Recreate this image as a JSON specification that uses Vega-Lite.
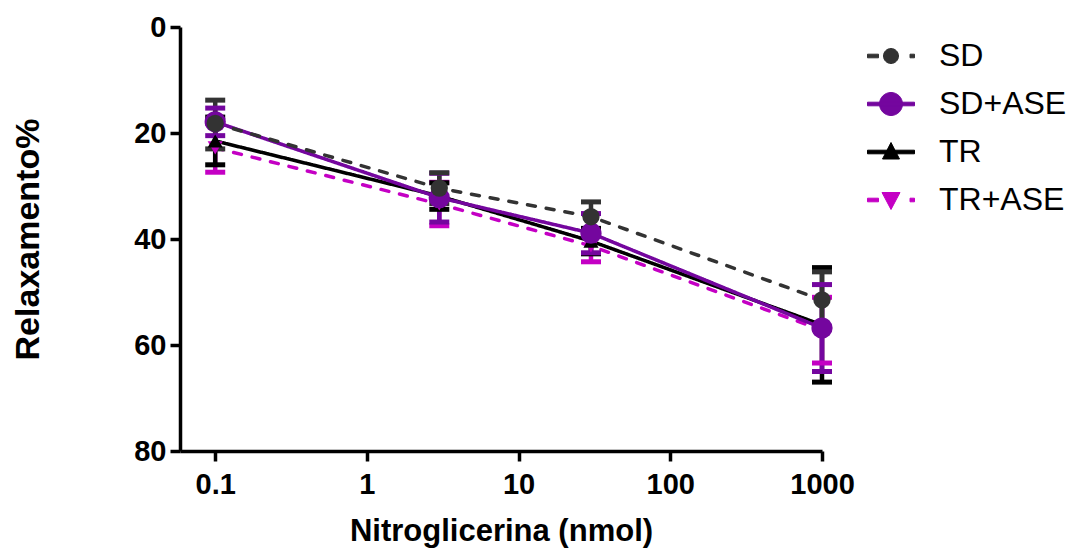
{
  "$schema": "https://vega.github.io/schema/vega-lite/v6.json",
  "width": 642,
  "height": 424,
  "autosize": "none",
  "padding": {"left": 180, "top": 27, "right": 262, "bottom": 99},
  "background": "white",
  "config": {
    "view": {"stroke": null},
    "font": "Liberation Sans",
    "axis": {
      "domainColor": "black", "domainWidth": 3.5, "tickColor": "black", "tickWidth": 3.5, "tickSize": 10,
      "labelFont": "Liberation Sans", "labelFontWeight": "bold", "labelColor": "black", "labelFontSize": 29,
      "titleFont": "Liberation Sans", "titleFontWeight": "bold", "titleColor": "black", "grid": false
    },
    "legend": {
      "orient": "none", "legendX": 695, "legendY": 13,
      "symbolSize": 400, "labelFontSize": 32, "labelFont": "Liberation Sans", "labelColor": "black",
      "rowPadding": 16, "labelOffset": 32, "symbolStrokeWidth": 1, "symbolOpacity": 1
    }
  },
  "data": {"values": [
    {"g": "TR+ASE", "dose": 0.1, "mean": 22.8, "lo": 18.2, "hi": 27.4, "ord": 1},
    {"g": "TR+ASE", "dose": 3, "mean": 33.4, "lo": 29.3, "hi": 37.5, "ord": 1},
    {"g": "TR+ASE", "dose": 30, "mean": 41.3, "lo": 38.4, "hi": 44.3, "ord": 1},
    {"g": "TR+ASE", "dose": 1000, "mean": 57.2, "lo": 51.0, "hi": 63.4, "ord": 1},
    {"g": "TR", "dose": 0.1, "mean": 21.5, "lo": 17.0, "hi": 26.0, "ord": 2},
    {"g": "TR", "dose": 3, "mean": 31.9, "lo": 29.4, "hi": 34.4, "ord": 2},
    {"g": "TR", "dose": 30, "mean": 40.4, "lo": 38.0, "hi": 42.8, "ord": 2},
    {"g": "TR", "dose": 1000, "mean": 56.2, "lo": 45.4, "hi": 67.0, "ord": 2},
    {"g": "SD+ASE", "dose": 0.1, "mean": 17.9, "lo": 15.3, "hi": 20.5, "ord": 3},
    {"g": "SD+ASE", "dose": 3, "mean": 32.2, "lo": 27.6, "hi": 36.8, "ord": 3},
    {"g": "SD+ASE", "dose": 30, "mean": 38.9, "lo": 35.2, "hi": 42.6, "ord": 3},
    {"g": "SD+ASE", "dose": 1000, "mean": 56.8, "lo": 48.6, "hi": 65.0, "ord": 3},
    {"g": "SD", "dose": 0.1, "mean": 18.2, "lo": 13.8, "hi": 23.0, "ord": 4},
    {"g": "SD", "dose": 3, "mean": 30.4, "lo": 27.5, "hi": 33.3, "ord": 4},
    {"g": "SD", "dose": 30, "mean": 35.8, "lo": 33.0, "hi": 38.7, "ord": 4},
    {"g": "SD", "dose": 1000, "mean": 51.5, "lo": 46.2, "hi": 57.0, "ord": 4}
  ]},
  "encoding": {
    "x": {
      "field": "dose", "type": "quantitative",
      "scale": {"type": "log", "domain": [0.0586, 1000], "nice": false},
      "axis": {"values": [0.1, 1, 10, 100, 1000], "format": "~g", "title": "Nitroglicerina (nmol)", "titleFontSize": 31, "labelPadding": 9, "titlePadding": 17, "labelFlush": false}
    },
    "color": {
      "field": "g", "type": "nominal",
      "scale": {"domain": ["SD", "SD+ASE", "TR", "TR+ASE"], "range": ["#333333", "#74069E", "#000000", "#C400C4"]},
      "legend": {"title": null}
    }
  },
  "layer": [
    {
      "mark": {"type": "line", "strokeWidth": 3.5, "strokeCap": "round", "opacity": 1},
      "encoding": {
        "y": {
          "field": "mean", "type": "quantitative",
          "scale": {"domain": [0, 80], "reverse": true, "nice": false},
          "axis": {"values": [0, 20, 40, 60, 80], "title": "Relaxamento%", "titleFontSize": 34, "labelPadding": 4, "titlePadding": 88}
        },
        "strokeDash": {
          "field": "g", "type": "nominal",
          "scale": {"domain": ["TR+ASE", "TR", "SD+ASE", "SD"], "range": [[8, 11], [1, 0], [1, 0], [8, 11]]},
          "legend": null
        },
        "order": {"field": "ord", "type": "quantitative"}
      }
    },
    {
      "mark": {"type": "rule", "strokeWidth": 4.5, "opacity": 1},
      "encoding": {
        "y": {"field": "lo", "type": "quantitative"},
        "y2": {"field": "hi"},
        "order": {"field": "ord", "type": "quantitative"}
      }
    },
    {
      "mark": {"type": "tick", "orient": "horizontal", "thickness": 5, "size": 20, "opacity": 1},
      "encoding": {
        "y": {"field": "lo", "type": "quantitative"},
        "order": {"field": "ord", "type": "quantitative"}
      }
    },
    {
      "mark": {"type": "tick", "orient": "horizontal", "thickness": 5, "size": 20, "opacity": 1},
      "encoding": {
        "y": {"field": "hi", "type": "quantitative"},
        "order": {"field": "ord", "type": "quantitative"}
      }
    },
    {
      "transform": [{"filter": "datum.g === 'TR+ASE'"}],
      "mark": {"type": "point", "filled": true, "opacity": 1, "shape": "triangle-down", "size": 230},
      "encoding": {"y": {"field": "mean", "type": "quantitative"}}
    },
    {
      "transform": [{"filter": "datum.g === 'TR'"}],
      "mark": {"type": "point", "filled": true, "opacity": 1, "shape": "triangle-up", "size": 230},
      "encoding": {"y": {"field": "mean", "type": "quantitative"}}
    },
    {
      "transform": [{"filter": "datum.g === 'SD+ASE'"}],
      "mark": {"type": "point", "filled": true, "opacity": 1, "shape": "circle", "size": 450},
      "encoding": {"y": {"field": "mean", "type": "quantitative"}}
    },
    {
      "transform": [{"filter": "datum.g === 'SD'"}],
      "mark": {"type": "point", "filled": true, "opacity": 1, "shape": "circle", "size": 300},
      "encoding": {"y": {"field": "mean", "type": "quantitative"}}
    },
    {
      "mark": {"type": "point", "filled": true, "opacity": 0, "size": 400},
      "encoding": {
        "y": {"field": "mean", "type": "quantitative"},
        "shape": {
          "field": "g", "type": "nominal",
          "scale": {
            "domain": ["SD", "SD+ASE", "TR", "TR+ASE"],
            "range": [
              "M-2.35,-0.18H-1.25V0.18H-2.35Z M1.9,-0.18H2.35V0.18H1.9Z M-0.75,0A0.75,0.75,0,1,1,0.75,0A0.75,0.75,0,1,1,-0.75,0Z",
              "M-2.35,-0.18H2.35V0.18H-2.35Z M-1.15,0A1.15,1.15,0,1,1,1.15,0A1.15,1.15,0,1,1,-1.15,0Z",
              "M-2.35,-0.18H2.35V0.18H-2.35Z M0,-0.95L0.85,0.7L-0.85,0.7Z",
              "M-2.35,-0.18H-1.25V0.18H-2.35Z M1.9,-0.18H2.35V0.18H1.9Z M-0.9,-0.75L0.9,-0.75L0,0.95Z"
            ]
          },
          "legend": {"title": null}
        }
      }
    }
  ]
}
